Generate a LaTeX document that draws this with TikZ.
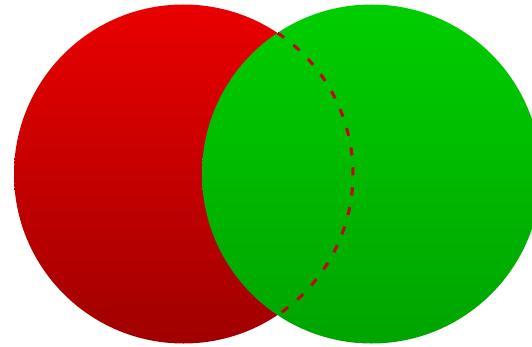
\documentclass[tikz,border=0pt]{standalone}
\begin{document}
\begin{tikzpicture}[x=1pt,y=1pt,
  disc/.style={draw=none},
  hiddenedge/.style={draw={rgb,255:red,200;green,0;blue,0}, line width=3pt, dash pattern=on 8pt off 12pt}]
\definecolor{rtop}{RGB}{234,0,0}
\definecolor{rbot}{RGB}{160,0,0}
\definecolor{gtop}{RGB}{0,206,0}
\definecolor{gbot}{RGB}{0,164,0}
\useasboundingbox (0,0) rectangle (532,346);
\clip (0,0) rectangle (532,346);
\coordinate (rc) at (183.5,172);
\coordinate (gc) at (371.5,172);
\shade[disc, top color=rtop, bottom color=rbot] (rc) circle[radius=169.5];
\shade[disc, top color=gtop, bottom color=gbot] (gc) circle[radius=169.5];
\begin{scope}
  \clip (gc) circle[radius=169.5];
  \draw[hiddenedge] (rc) ++(56.3:169.5) arc[start angle=56.3, end angle=-56.3, radius=169.5];
\end{scope}
\end{tikzpicture}
\end{document}
